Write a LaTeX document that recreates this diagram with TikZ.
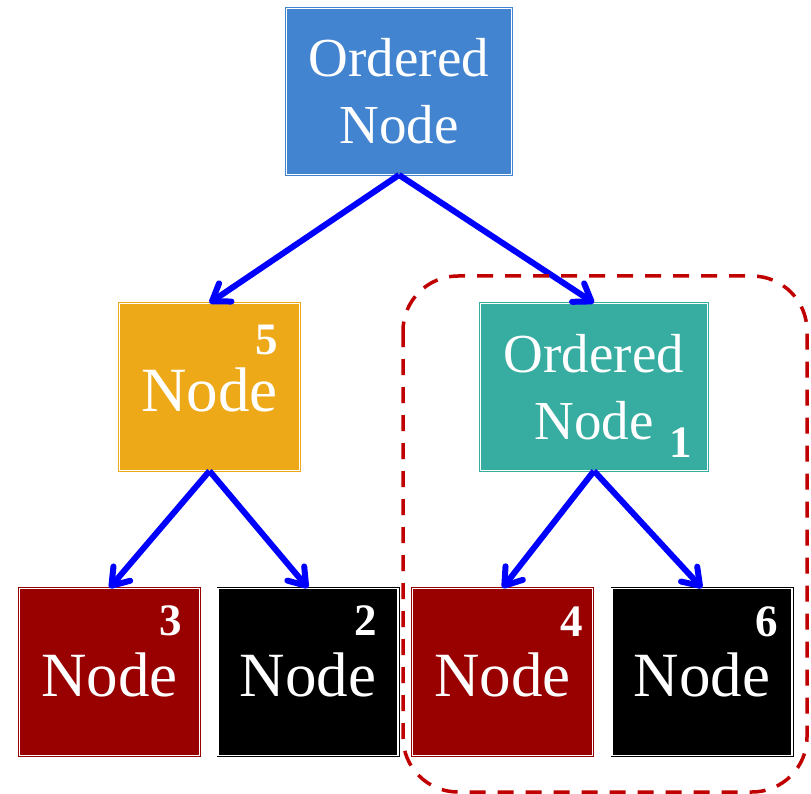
\documentclass[tikz,border=0pt]{standalone}
\usepackage{fontspec}
\setmainfont{Liberation Serif}
\usepackage{xcolor}
\usetikzlibrary{arrows.meta,positioning}

\definecolor{ordblue}{HTML}{4284D0}
\definecolor{ordteal}{HTML}{37ADA2}
\definecolor{nodeorange}{HTML}{EEA919}
\definecolor{nodered}{HTML}{990000}
\definecolor{groupred}{HTML}{C00000}

\begin{document}
\begin{tikzpicture}[x=1pt,y=-1pt,
  box/.style={draw=#1,fill=#1,double=white,double distance=1.2pt,line width=0.9pt,
    inner sep=0pt,text=white,align=center,minimum height=167pt,minimum width=180pt},
  big/.style={font=\fontsize{63}{70}\selectfont,text height=49pt,text depth=0pt},
  two/.style={font=\fontsize{55}{67}\selectfont},
  num/.style={text=white,inner sep=0pt,font=\fontsize{45}{50}\selectfont\bfseries},
  arr/.style={blue,line width=6pt,-{Straight Barb[length=16pt,width=22pt,round]}}]
\useasboundingbox (0,0) rectangle (811,794);

% tree
\node[box=ordblue,two,minimum width=225pt,minimum height=166pt] (root) at (399,91.5) {Ordered\\Node};
\node[box=nodeorange,big] (five) at (209.5,387) {Node};
\node[box=ordteal,two,minimum width=227pt] (one) at (594,387) {Ordered\\Node};
\node[box=nodered,big] (three) at (109.5,672) {Node};
\node[box=black,big] (two) at (308,672) {Node};
\node[box=nodered,big] (four) at (502.5,672) {Node};
\node[box=black,big] (six) at (702,672) {Node};

% numbers
\node[num,anchor=base east] (n5) at (278,354) {5};
\node[num,anchor=base east] (n1) at (692,457) {1};
\node[num,anchor=base east] (n3) at (182,635) {3};
\node[num,anchor=base east] (n2) at (377,635) {2};
\node[num,anchor=base east] (n4) at (583,636) {4};
\node[num,anchor=base east] (n6) at (778,636) {6};

\draw[arr] (root.south) -- (five.north);
\draw[arr] (root.south) -- (one.north);
\draw[arr] (five.south) -- (three.north);
\draw[arr] (five.south) -- (two.north);
\draw[arr] (one.south) -- (four.north);
\draw[arr] (one.south) -- (six.north);

% subtree
\draw[groupred,line width=3.5pt,dash pattern=on 16pt off 12pt,rounded corners=55pt]
  (403,276) rectangle (807,792);
\end{tikzpicture}
\end{document}
